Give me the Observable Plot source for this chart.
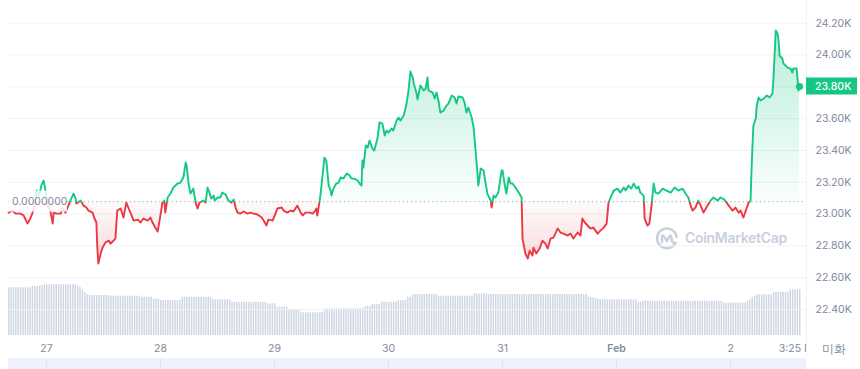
<!DOCTYPE html>
<html>
<head>
<meta charset="utf-8">
<script src="https://cdn.jsdelivr.net/npm/d3@7"></script>
<script src="https://cdn.jsdelivr.net/npm/@observablehq/plot@0.6"></script>
<style>
  html, body { margin: 0; padding: 0; background: #fff; }
  #wrap { position: relative; width: 860px; height: 369px; overflow: hidden; font-family: Inter, "Liberation Sans", sans-serif; }
  #wrap svg { position: absolute; left: 0; top: 0; }
</style>
</head>
<body>
<div id="wrap"></div>
<script>
// ---------- DATA ----------
// hours relative to Jan 27 00:00
const hours = [
  -8.0,-7.2,-6.5,-5.5,-4.8,-4.0,-3.4,-3.0,-2.5,-2.1,
  -1.5,-1.1,-0.6,-0.2,0.2,0.8,1.3,1.5,2.1,3.0,
  3.4,4.0,4.6,5.1,5.7,6.1,6.3,7.2,7.8,8.4,
  8.8,9.7,10.1,10.5,10.7,10.9,11.4,11.8,12.4,13.1,
  13.5,14.1,14.5,14.9,15.6,16.2,16.8,17.3,18.1,18.3,
  19.2,19.8,20.4,21.3,21.9,22.3,22.9,23.4,23.8,24.4,
  24.8,25.0,25.5,26.1,26.7,27.6,28.2,28.8,29.3,29.5,
  29.9,30.3,30.9,31.4,31.8,32.2,33.0,33.5,33.9,34.3,
  34.7,35.2,35.4,36.0,36.6,37.0,37.7,38.3,38.9,39.4,
  39.8,40.2,40.8,41.5,42.3,42.9,43.6,44.4,45.3,45.7,
  46.3,46.7,47.6,48.2,48.6,49.5,49.9,50.7,51.4,52.0,
  52.8,53.5,53.9,54.5,55.4,56.0,56.6,56.8,57.0,57.5,
  57.7,58.1,58.5,58.9,59.2,59.4,59.8,60.0,60.4,61.0,
  61.5,61.9,62.5,63.2,63.8,64.2,64.8,65.5,65.9,66.3,
  66.5,66.7,67.2,67.6,68.0,68.6,69.0,69.7,70.1,70.7,
  71.2,71.6,72.0,72.6,73.0,73.7,74.1,74.5,75.2,75.8,
  76.2,76.6,77.1,77.3,77.9,78.1,78.7,79.4,79.8,80.2,
  80.4,81.3,81.7,82.1,82.5,82.9,83.6,84.2,84.6,85.3,
  85.9,86.3,86.7,87.6,88.0,88.4,88.8,89.5,89.9,90.5,
  90.9,91.4,92.0,92.4,92.8,93.5,93.7,94.1,94.5,95.1,
  95.8,96.0,96.4,96.8,97.3,97.7,98.1,98.7,99.4,100.0,
  100.2,100.4,100.8,101.3,101.7,102.3,102.5,103.1,103.8,104.4,
  105.0,105.5,106.1,106.7,107.6,108.2,108.8,109.7,110.3,110.9,
  111.8,112.4,112.8,113.3,113.9,114.5,115.1,116.0,116.6,117.3,
  117.9,118.3,118.9,119.4,120.2,120.8,121.5,121.9,122.5,123.1,
  123.6,124.2,124.6,125.0,125.7,125.9,126.5,126.9,127.4,127.8,
  128.2,128.8,129.7,130.5,131.4,132.2,133.0,133.9,134.5,135.1,
  135.6,136.0,136.6,137.2,137.7,138.3,138.9,139.8,140.4,141.2,
  141.9,142.7,143.6,144.4,145.0,145.7,146.1,146.7,147.2,147.8,
  148.2,148.4,148.6,148.8,149.3,149.5,149.9,150.3,151.0,151.6,
  152.2,152.8,153.0,153.5,153.9,154.1,154.3,154.9,155.1,156.0,
  156.6,157.0,157.2,157.9,158.3,158.5
];
const prices = [
  23009,23022,23003,23003,22991,22940,22972,23003,23053,23148,
  23116,23179,23211,23148,23053,23022,22940,23009,23003,23003,
  23035,23009,23053,23091,23129,23097,23066,23085,23053,23041,
  23022,23009,22972,22947,22789,22689,22752,22789,22821,22833,
  22814,22833,22846,23022,23035,22978,23072,23035,22978,22959,
  22965,22947,22972,22959,22978,22947,22915,22890,22959,23072,
  23085,23009,23104,23129,23167,23192,23198,23230,23324,23305,
  23192,23129,23160,23072,23035,23072,23085,23072,23167,23135,
  23097,23116,23085,23104,23104,23135,23123,23085,23072,23091,
  23041,23009,23003,23016,23003,23009,23003,22997,22978,22959,
  22928,22965,22959,23003,23035,23041,23022,23009,23022,23016,
  23053,23009,22991,23009,23009,23003,23022,23035,22991,23085,
  23129,23242,23355,23337,23242,23179,23148,23116,23160,23192,
  23198,23230,23223,23255,23242,23223,23223,23211,23192,23179,
  23337,23292,23431,23418,23462,23412,23399,23481,23576,23569,
  23494,23525,23513,23538,23525,23588,23607,23588,23620,23695,
  23777,23896,23859,23821,23758,23720,23808,23777,23789,23859,
  23777,23764,23727,23764,23714,23638,23651,23682,23695,23745,
  23733,23695,23739,23733,23701,23638,23670,23607,23544,23337,
  23179,23286,23274,23198,23129,23085,23041,23116,23104,23135,
  23274,23274,23192,23129,23230,23192,23192,23167,23135,23104,
  22846,22814,22752,22720,22770,22739,22789,22752,22783,22833,
  22814,22783,22846,22852,22909,22884,22877,22865,22877,22846,
  22884,22865,22972,22947,22928,22909,22915,22877,22896,22915,
  22940,23072,23116,23148,23160,23135,23167,23148,23179,23160,
  23192,23160,23173,23135,23116,22972,22928,22940,23066,23192,
  23135,23129,23160,23148,23135,23167,23148,23160,23129,23104,
  23053,23022,23041,23085,23053,23009,23041,23085,23104,23085,
  23104,23091,23053,23022,23041,23009,23022,22978,23022,23072,
  23085,23274,23431,23557,23601,23682,23733,23714,23727,23745,
  23733,23758,23840,24154,24135,24091,23997,23978,23947,23921,
  23915,23890,23915,23915,23777,23802
];
// volume bars, one per 30 minutes from volStartHour (relative units)
const volStartHour = -8;
const volStepHours = 0.5;
const volumes = [
  47.7,47.7,47.7,47.7,47.7,47.7,47.7,47.7,47.7,47.7,
  49,49,49,49.5,50,
  50.7,50.7,50.7,50.7,50.7,50.7,50.7,50.7,50.7,50.7,50.7,50.7,50.7,50.7,
  49.5,48,45.5,43,41,
  40,40,40,40,40,40,40,40,40,
  39.3,39.3,39.3,39.3,39.3,39.3,39.3,39.3,39.3,39.3,39.3,39.3,39.3,
  38.3,38.3,38.3,38.3,38.3,
  36.5,36.5,36.5,
  35,35,35,35,35,35,35,35,35,
  38.3,38.3,38.3,38.3,38.3,38.3,38.3,38.3,38.3,38.3,38.3,38.3,38.3,
  35.7,35.7,35.7,35.7,35.7,35.7,35.7,35.7,
  33.3,33.3,33.3,33.3,33.3,33.3,33.3,33.3,33.3,33.3,33.3,33.3,33.3,33.3,33.3,
  31.7,31.7,31.7,31.7,
  28.3,28.3,28.3,28.3,28.3,
  26,26,26,26,26,
  22.7,22.7,22.7,22.7,22.7,22.7,22.7,22.7,22.7,22.7,
  26.7,26.7,26.7,26.7,26.7,26.7,26.7,26.7,26.7,26.7,26.7,26.7,26.7,26.7,26.7,26.7,26.7,
  29,29,29,
  31,31,31,31,
  33.3,33.3,33.3,33.3,33.3,33.3,33.3,
  35,35,35,35,
  38.3,38.3,
  41,41,41,41,41,41,41,41,41,41,41,
  39.3,39.3,39.3,39.3,39.3,39.3,39.3,39.3,39.3,39.3,39.3,39.3,39.3,39.3,39.3,
  41.7,41.7,41.7,41.7,41.7,41.7,
  41,41,41,41,41,41,41,41,41,41,41,41,41,41,41,41,41,41,41,41,41,
  41,41,41,41,41,41,41,41,41,41,41,41,41,41,41,41,41,41,41,41,41,
  38.5,38,37.5,37,36.5,36,36,
  35.7,35.7,35.7,35.7,35.7,35.7,35.7,35.7,35.7,35.7,35.7,35.7,35.7,35.7,
  33.3,33.3,
  34.3,34.3,34.3,34.3,34.3,34.3,34.3,34.3,34.3,34.3,34.3,34.3,34.3,34.3,34.3,34.3,34.3,
  34.3,34.3,34.3,34.3,34.3,34.3,34.3,34.3,34.3,34.3,34.3,34.3,34.3,34.3,34.3,34.3,34.3,
  32.3,32.3,32.3,32.3,32.3,32.3,32.3,32.3,32.3,32.3,
  34,36,38,39.5,
  40.7,40.7,40.7,40.7,40.7,40.7,40.7,
  43.3,43.3,43.3,43.3,43.3,43.3,43.3,
  45.7,45.7,45.7,45.7,45.7
];
const baselinePrice = 23078;
const baselineLabel = "0.0000000";
const yTicks = [22400, 22600, 22800, 23000, 23200, 23400, 23600, 23800, 24000, 24200];
const yTickLabels = ["22.40K","22.60K","22.80K","23.00K","23.20K","23.40K","23.60K","23.80K","24.00K","24.20K"];
const xTickHours = [0, 24, 48, 72, 96, 120, 144, 158.5];
const xTickLabels = ["27", "28", "29", "30", "31", "Feb", "2", "3:25 PM"];
const monthLabel = "Feb";
const unitLabel = "미화";
const watermarkText = "CoinMarketCap";

// ---------- CHART ----------
const W = 860, H = 369;
const green = "#16c784", red = "#ea3943", labelColor = "#808a9d", gridColor = "#eff2f5";
const FONT = "Inter, 'Liberation Sans', sans-serif";
const FS = 10.5;
const t0 = Date.UTC(2023, 0, 27);
const toDate = h => new Date(t0 + h * 3600000);

const priceData = hours.map((h, i) => ({date: toDate(h), price: prices[i]}));
const volData = volumes.map((v, i) => ({
  start: toDate(volStartHour + i * volStepHours),
  end: toDate(volStartHour + (i + 1) * volStepHours),
  volume: v
}));
const xTicks = xTickHours.map((h, i) => ({date: toDate(h), label: xTickLabels[i]}));
const last = priceData[priceData.length - 1];
const lastLabel = (last.price / 1000).toFixed(2) + "K";

const margins = {marginTop: 0, marginRight: 54, marginBottom: 28, marginLeft: 8};
const xOpts = {type: "utc", domain: [priceData[0].date, last.date], range: [8, 799], axis: null};

const wrap = document.getElementById("wrap");

// volume panel (underneath)
const volChart = Plot.plot({
  width: W, height: H, ...margins,
  x: xOpts,
  y: {domain: [0, 50], range: [335, 285], axis: null},
  style: {background: "transparent", overflow: "visible"},
  marks: [
    Plot.rectY(volData, {x1: "start", x2: "end", y: "volume", fill: "#cfd6e3", insetRight: 0.9})
  ]
});
wrap.appendChild(volChart);

// y tick labels (the one hidden under the last-price badge is left to the badge)
const yLabelData = yTicks.map((v, i) => ({v, label: yTickLabels[i]})).filter(d => d.label !== lastLabel);

// price panel
const chart = Plot.plot({
  width: W, height: H, ...margins,
  x: xOpts,
  y: {domain: [yTicks[0], yTicks[yTicks.length - 1]], range: [309, 22.7], axis: null},
  style: {background: "transparent", overflow: "visible", fontFamily: FONT},
  marks: [
    Plot.ruleY(yTicks, {stroke: gridColor}),
    Plot.areaY(priceData, {x: "date", y1: baselinePrice, y2: "price", fill: "url(#priceFill)"}),
    Plot.ruleY([baselinePrice], {stroke: "#98a0ae", strokeDasharray: "1.2,3"}),
    Plot.line(priceData, {x: "date", y: "price", stroke: "url(#priceStroke)", strokeWidth: 1.9, strokeLinejoin: "round", strokeLinecap: "round"}),
    Plot.dot([last], {x: "date", y: "price", r: 3.6, fill: green}),
    Plot.text(yLabelData, {y: "v", text: "label", frameAnchor: "right", textAnchor: "start", dx: 9, fill: labelColor, fontSize: FS}),
    Plot.text(xTicks, {filter: d => d.label !== monthLabel, x: "date", text: "label", frameAnchor: "bottom", lineAnchor: "top", dy: 3, fill: labelColor, fontSize: FS}),
    Plot.text(xTicks, {filter: d => d.label === monthLabel, x: "date", text: "label", frameAnchor: "bottom", lineAnchor: "top", dy: 3, fill: labelColor, fontSize: FS, fontWeight: 600}),
    Plot.text([unitLabel], {text: d => d, frameAnchor: "bottom-right", lineAnchor: "top", textAnchor: "start", dx: 15, dy: 3, fill: labelColor, fontSize: 12})
  ]
});
wrap.appendChild(chart);

// ---------- decorations computed from the scales ----------
function scaleFn(c, name, fallback) {
  const s = c.scale(name);
  return s && s.apply ? s.apply : fallback;
}
const yPx = scaleFn(chart, "y", d3.scaleLinear([yTicks[0], yTicks[yTicks.length - 1]], [309, 22.7]));
const xPx = scaleFn(chart, "x", d3.scaleUtc(xOpts.domain, xOpts.range));
const frameRight = W - margins.marginRight;
const frameLeft = margins.marginLeft;

const svg = d3.select(chart);
const defs = svg.insert("defs", ":first-child");
const yb = yPx(baselinePrice);
const yTop = yPx(d3.max(prices));
const yBot = yPx(d3.min(prices));

const sg = defs.append("linearGradient").attr("id", "priceStroke")
  .attr("gradientUnits", "userSpaceOnUse").attr("x1", 0).attr("x2", 0).attr("y1", 0).attr("y2", H);
sg.append("stop").attr("offset", yb / H).attr("stop-color", green);
sg.append("stop").attr("offset", yb / H).attr("stop-color", red);

const fg = defs.append("linearGradient").attr("id", "priceFill")
  .attr("gradientUnits", "userSpaceOnUse").attr("x1", 0).attr("x2", 0).attr("y1", yTop).attr("y2", yBot);
const off = (yb - yTop) / (yBot - yTop);
fg.append("stop").attr("offset", 0).attr("stop-color", green).attr("stop-opacity", 0.3);
fg.append("stop").attr("offset", off).attr("stop-color", green).attr("stop-opacity", 0.02);
fg.append("stop").attr("offset", off).attr("stop-color", red).attr("stop-opacity", 0.02);
fg.append("stop").attr("offset", 1).attr("stop-color", red).attr("stop-opacity", 0.2);

// clip the last x label at the plot's right border
defs.append("clipPath").attr("id", "xclip").append("rect")
  .attr("x", 0).attr("y", 0).attr("width", frameRight).attr("height", H + 20);
svg.selectAll("text").filter(function () { return this.textContent === xTickLabels[xTickLabels.length - 1]; })
  .each(function () { d3.select(this.parentNode).attr("clip-path", "url(#xclip)"); });

// watermark (behind marks)
const wm = svg.insert("g", "defs + *").attr("fill", "none").attr("stroke", "#c9d0dd");
const lx = frameRight - 139, ly = yb + 37;
wm.append("path").attr("stroke-width", 2.6).attr("stroke-linecap", "round")
  .attr("d", `M${lx + 8.5},${ly + 5} A9.8,9.8 0 1 1 ${lx + 9.6},${ly - 1.5}`);
wm.append("path").attr("stroke-width", 2.4).attr("stroke-linecap", "round").attr("stroke-linejoin", "round")
  .attr("d", `M${lx - 5},${ly + 4} L${lx - 5},${ly - 2} Q${lx - 4.5},${ly - 4} ${lx - 2.5},${ly - 1} L${lx},${ly + 3} L${lx + 2.5},${ly - 2} Q${lx + 4},${ly - 4} ${lx + 4.5},${ly} L${lx + 4.8},${ly + 3} Q${lx + 6},${ly + 5} ${lx + 8.5},${ly + 5}`);
wm.append("text").attr("x", lx + 18).attr("y", ly).attr("dy", "0.36em").attr("stroke", "none")
  .attr("text-anchor", "start").attr("letter-spacing", -0.3)
  .attr("fill", "#c9d0dd").attr("font-family", FONT).attr("font-size", 14).attr("font-weight", 600)
  .text(watermarkText);

// right border line
svg.append("line").attr("x1", frameRight + 0.5).attr("x2", frameRight + 0.5).attr("y1", 0).attr("y2", 358)
  .attr("stroke", gridColor);

// baseline label with translucent box
svg.append("rect").attr("x", frameLeft).attr("y", yb - 10.5).attr("width", 59).attr("height", 21)
  .attr("fill", "#fff").attr("fill-opacity", 0.82);
svg.append("text").attr("x", frameLeft + 4).attr("y", yb).attr("dy", "0.36em").attr("text-anchor", "start")
  .attr("fill", labelColor).attr("font-family", FONT).attr("font-size", FS).text(baselineLabel);

// last price badge
const lastY = yPx(last.price);
svg.append("rect").attr("x", frameRight).attr("y", lastY - 8.5).attr("width", 51).attr("height", 17)
  .attr("fill", green);
svg.append("text").attr("x", frameRight + 9).attr("y", lastY).attr("dy", "0.36em").attr("text-anchor", "start")
  .attr("fill", "#fff").attr("font-family", FONT).attr("font-size", FS).attr("font-weight", 500)
  .text(lastLabel);

// navigator band at the bottom (volume svg, underneath)
const vsvg = d3.select(volChart);
vsvg.append("rect").attr("x", frameLeft).attr("y", 358).attr("width", frameRight - frameLeft).attr("height", H - 358)
  .attr("fill", "#eef1fb");
xTicks.slice(0, -1).forEach(t => {
  const px = Math.round(xPx(t.date)) + 0.5;
  vsvg.append("line").attr("x1", px).attr("x2", px).attr("y1", 358).attr("y2", H).attr("stroke", "#dde3f3");
});
</script>
</body>
</html>
